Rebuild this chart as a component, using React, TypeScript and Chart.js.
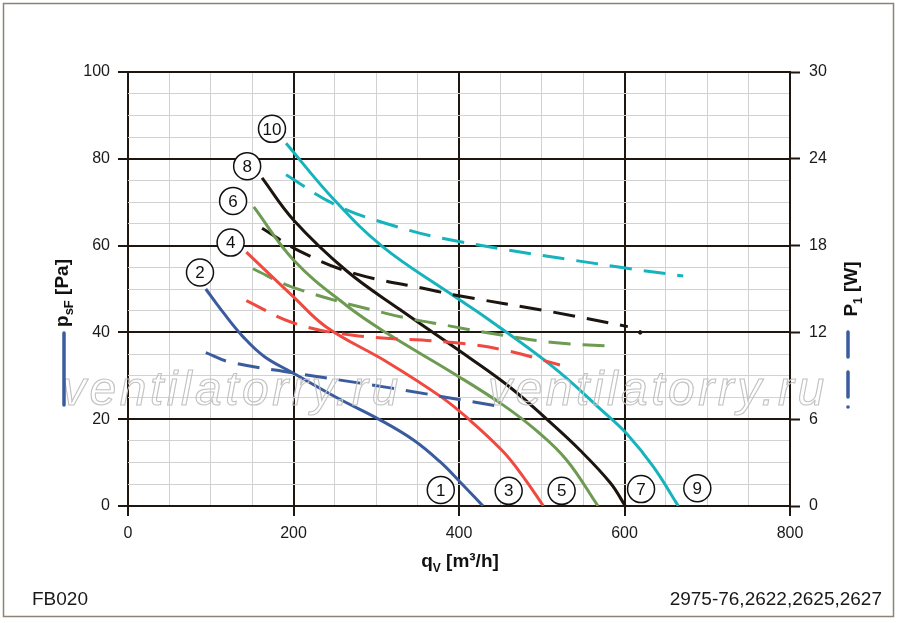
import React, { useEffect, useRef } from "react";
import { Chart, registerables } from "chart.js";

Chart.register(...registerables);

// ---- data (flow in m³/h, pressure in Pa, power in W) ----
const flow1 = [94, 115, 140, 165, 200, 252, 305, 345, 377, 401, 429];
const psf1 = [50, 44.6, 38.8, 34.4, 30.6, 25, 19.8, 15.2, 10.2, 5.6, 0];
const flowP1 = [94, 123, 200, 313, 447];
const pw1 = [10.6, 9.95, 9.2, 8.2, 6.9];

const flow3 = [143, 200, 240, 313, 378, 413, 453, 477, 502];
const psf3 = [58.5, 48.2, 41.2, 33.2, 25.2, 19.8, 12.6, 6.9, 0];
const flowP3 = [143, 200, 272, 393, 453, 522];
const pw3 = [14.2, 12.65, 11.8, 11.3, 10.8, 9.75];

const flow5 = [152, 200, 264, 313, 393, 453, 494, 530, 568];
const psf5 = [68.9, 56.7, 46.2, 39.8, 30.6, 23.3, 17.3, 10.6, 0];
const flowP5 = [151, 200, 313, 393, 453, 514, 586];
const pw5 = [16.4, 15.1, 13.3, 12.4, 11.8, 11.3, 11.05];

const flow7 = [162, 200, 264, 329, 413, 462, 506, 546, 583, 601];
const psf7 = [75.6, 65.9, 54.2, 45.2, 34.1, 27.3, 20, 12.9, 5.3, 0];
const flowP7 = [162, 208, 272, 369, 393, 514, 604];
const pw7 = [19.2, 17.6, 16.1, 14.9, 14.6, 13.4, 12.4];
const flowDot7 = [619];
const pwDot7 = [12.0];

const flow9 = [191, 248, 308, 389, 434, 514, 574, 603, 635, 665];
const psf9 = [83.6, 70.8, 59.7, 49, 43.2, 32, 21.8, 16.6, 9, 0];
const flowP9 = [191, 248, 308, 389, 595, 671];
const pw9 = [22.9, 20.9, 19.6, 18.4, 16.5, 15.9];

const curveNames = ["1", "2", "3", "4", "5", "6", "7", "8", "9", "10"];
const curveLabelFlow = [378, 87, 460, 124, 524, 127, 620, 144, 688, 174];
const curveLabelPsf = [3.7, 53.8, 3.5, 60.7, 3.5, 70.3, 3.9, 78.3, 4.1, 86.9];

const xTickValues = [0, 200, 400, 600, 800];
const yTickValues = [0, 20, 40, 60, 80, 100];
const y1TickValues = [0, 6, 12, 18, 24, 30];

const COL = {
  blue: "#3a5c9e",
  red: "#f04a40",
  green: "#6d9b52",
  black: "#1c140e",
  cyan: "#17b3bd",
};
const DARK = "#1e1610";
const LIGHT = "#d2d2d2";
const FONT = '"Liberation Sans", Arial, sans-serif';

function pts(xs: number[], ys: number[]) {
  return xs.map((x, i) => ({ x, y: ys[i] }));
}

function ds(xs: number[], ys: number[], color: string, dashed: boolean, axis: string) {
  return {
    data: pts(xs, ys),
    borderColor: color,
    backgroundColor: color,
    borderWidth: 3,
    borderDash: dashed ? [22, 12] : [],
    pointRadius: 0,
    tension: 0.4,
    yAxisID: axis,
    fill: false,
  };
}

function drawParts(
  ctx: CanvasRenderingContext2D,
  parts: { t: string; size: number; dy?: number }[],
  cx: number,
  y: number
) {
  let total = 0;
  for (const p of parts) {
    ctx.font = `bold ${p.size}px ${FONT}`;
    total += ctx.measureText(p.t).width;
  }
  let x = cx - total / 2;
  ctx.textAlign = "left";
  ctx.textBaseline = "alphabetic";
  for (const p of parts) {
    ctx.font = `bold ${p.size}px ${FONT}`;
    ctx.fillText(p.t, x, y + (p.dy || 0));
    x += ctx.measureText(p.t).width;
  }
}

const decoPlugin = {
  id: "deco",
  afterDatasetsDraw(chart: any) {
    const ctx: CanvasRenderingContext2D = chart.ctx;
    const xs = chart.scales.x;
    const ys = chart.scales.y;
    // watermark
    ctx.save();
    ctx.font = `italic 48px ${FONT}`;
    (ctx as any).letterSpacing = "3.5px";
    ctx.strokeStyle = "#c2c2c2";
    ctx.lineWidth = 1.1;
    ctx.textAlign = "left";
    ctx.textBaseline = "alphabetic";
    ctx.strokeText("ventilatorry.ru", 62, 405);
    ctx.strokeText("ventilatorry.ru", 488, 405);
    ctx.restore();
    // circled curve labels
    ctx.save();
    for (let i = 0; i < curveNames.length; i++) {
      const px = xs.getPixelForValue(curveLabelFlow[i]);
      const py = ys.getPixelForValue(curveLabelPsf[i]);
      ctx.beginPath();
      ctx.arc(px, py, 13.5, 0, Math.PI * 2);
      ctx.fillStyle = "#ffffff";
      ctx.fill();
      ctx.lineWidth = 1.5;
      ctx.strokeStyle = "#111";
      ctx.stroke();
      ctx.fillStyle = "#111";
      ctx.font = `17px ${FONT}`;
      ctx.textAlign = "center";
      ctx.textBaseline = "middle";
      ctx.fillText(curveNames[i], px, py + 1);
    }
    ctx.restore();
  },
  afterDraw(chart: any) {
    const ctx: CanvasRenderingContext2D = chart.ctx;
    ctx.save();
    // frame
    ctx.strokeStyle = "#8a8378";
    ctx.lineWidth = 1.5;
    ctx.strokeRect(3.5, 3.5, 890, 613);
    ctx.fillStyle = "#111";
    // x title
    drawParts(
      ctx,
      [
        { t: "q", size: 19 },
        { t: "V", size: 12, dy: 5 },
        { t: " [m³/h]", size: 19 },
      ],
      460,
      567
    );
    // left title
    ctx.save();
    ctx.translate(68, 293);
    ctx.rotate(-Math.PI / 2);
    drawParts(
      ctx,
      [
        { t: "p", size: 19 },
        { t: "sF", size: 13, dy: 5 },
        { t: " [Pa]", size: 19 },
      ],
      0,
      0
    );
    ctx.restore();
    // right title
    ctx.save();
    ctx.translate(857, 289);
    ctx.rotate(-Math.PI / 2);
    drawParts(
      ctx,
      [
        { t: "P", size: 19 },
        { t: "1", size: 12, dy: 5 },
        { t: " [W]", size: 19 },
      ],
      0,
      0
    );
    ctx.restore();
    // legend marks for solid / dashed
    ctx.strokeStyle = COL.blue;
    ctx.lineWidth = 3.5;
    ctx.lineCap = "round";
    ctx.beginPath();
    ctx.moveTo(64, 333);
    ctx.lineTo(64, 405);
    ctx.stroke();
    ctx.beginPath();
    ctx.moveTo(848, 332);
    ctx.lineTo(848, 357);
    ctx.moveTo(848, 372);
    ctx.lineTo(848, 397);
    ctx.stroke();
    ctx.beginPath();
    ctx.arc(848, 407, 1.8, 0, Math.PI * 2);
    ctx.fillStyle = COL.blue;
    ctx.fill();
    // footer
    ctx.fillStyle = "#1a1a1a";
    ctx.font = `19px ${FONT}`;
    ctx.textBaseline = "alphabetic";
    ctx.textAlign = "left";
    ctx.fillText("FB020", 32, 605);
    ctx.textAlign = "right";
    ctx.fillText("2975-76,2622,2625,2627", 882, 605);
    ctx.restore();
  },
};

export default function App() {
  const ref = useRef<HTMLCanvasElement | null>(null);
  useEffect(() => {
    document.body.style.margin = "0";
    if (!ref.current) return;
    const tickFont = { family: FONT, size: 16 };
    const isMajorX = (v: number) => v % 200 === 0;
    const isMajorY = (v: number) => v % 20 === 0;
    const chart = new Chart(ref.current, {
      type: "line",
      data: {
        datasets: [
          ds(flow1, psf1, COL.blue, false, "y"),
          ds(flowP1, pw1, COL.blue, true, "y1"),
          ds(flow3, psf3, COL.red, false, "y"),
          ds(flowP3, pw3, COL.red, true, "y1"),
          ds(flow5, psf5, COL.green, false, "y"),
          ds(flowP5, pw5, COL.green, true, "y1"),
          ds(flow7, psf7, COL.black, false, "y"),
          ds(flowP7, pw7, COL.black, true, "y1"),
          {
            data: pts(flowDot7, pwDot7),
            borderColor: COL.black,
            backgroundColor: COL.black,
            pointRadius: 1.8,
            showLine: false,
            yAxisID: "y1",
          },
          ds(flow9, psf9, COL.cyan, false, "y"),
          ds(flowP9, pw9, COL.cyan, true, "y1"),
        ] as any,
      },
      options: {
        animation: false,
        responsive: false,
        devicePixelRatio: 1,
        layout: { padding: { top: 72, left: 0, right: 0, bottom: 0 } },
        plugins: { legend: { display: false }, tooltip: { enabled: false } },
        scales: {
          x: {
            type: "linear",
            min: 0,
            max: 800,
            afterFit: (s: any) => {
              s.height = 117;
            },
            afterBuildTicks: (s: any) => {
              const t: any[] = [];
              for (let v = 0; v <= 800; v += 50) t.push({ value: v });
              s.ticks = t;
            },
            ticks: {
              autoSkip: false,
              maxRotation: 0,
              padding: 8,
              color: "#1a1a1a",
              font: tickFont,
              callback: (v: any) => (xTickValues.includes(Number(v)) ? String(v) : ""),
            },
            grid: {
              color: (c: any) => (isMajorX(c.tick.value) ? DARK : LIGHT),
              lineWidth: (c: any) => (isMajorX(c.tick.value) ? 2 : 1),
              tickColor: (c: any) => (isMajorX(c.tick.value) ? DARK : "rgba(0,0,0,0)"),
              tickLength: 10,
              tickWidth: 2,
            },
            border: { display: false },
          },
          y: {
            type: "linear",
            position: "left",
            min: 0,
            max: 100,
            afterFit: (s: any) => {
              s.width = 128;
            },
            afterBuildTicks: (s: any) => {
              const t: any[] = [];
              for (let v = 0; v <= 100; v += 5) t.push({ value: v });
              s.ticks = t;
            },
            ticks: {
              autoSkip: false,
              padding: 8,
              color: "#1a1a1a",
              font: tickFont,
              callback: (v: any) => (yTickValues.includes(Number(v)) ? String(v) : ""),
            },
            grid: {
              color: (c: any) => (isMajorY(c.tick.value) ? DARK : LIGHT),
              lineWidth: (c: any) => (isMajorY(c.tick.value) ? 2 : 1),
              tickColor: (c: any) => (isMajorY(c.tick.value) ? DARK : "rgba(0,0,0,0)"),
              tickLength: 10,
              tickWidth: 2,
            },
            border: { display: false },
          },
          y1: {
            type: "linear",
            position: "right",
            min: 0,
            max: 30,
            afterFit: (s: any) => {
              s.width = 110;
            },
            afterBuildTicks: (s: any) => {
              s.ticks = y1TickValues.map((v) => ({ value: v }));
            },
            ticks: {
              autoSkip: false,
              padding: 9,
              color: "#1a1a1a",
              font: tickFont,
            },
            grid: {
              drawOnChartArea: false,
              color: DARK,
              tickColor: DARK,
              tickLength: 10,
              tickWidth: 2,
            },
            border: { display: true, color: DARK, width: 2 },
          },
        },
      } as any,
      plugins: [decoPlugin],
    });
    return () => chart.destroy();
  }, []);
  return (
    <div style={{ position: "absolute", left: 0, top: 0, width: 900, height: 623 }}>
      <canvas ref={ref} width={900} height={623} style={{ width: 900, height: 623 }} />
    </div>
  );
}
